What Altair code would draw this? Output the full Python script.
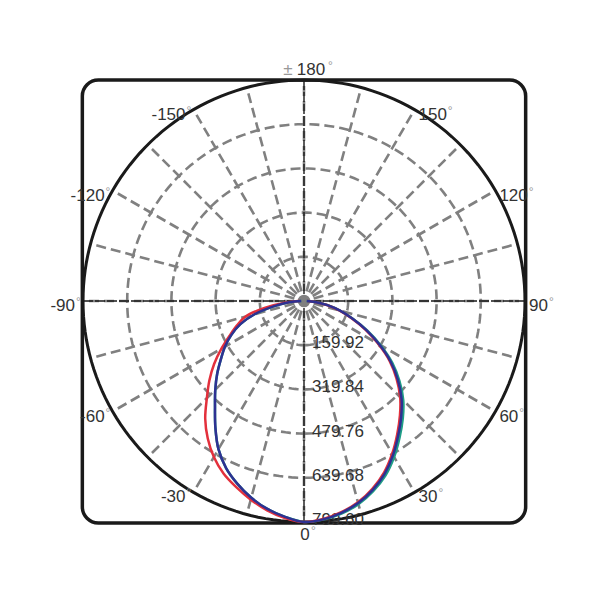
import altair as alt
import pandas as pd

# ---------------- data ----------------
ANGLES = list(range(-90, 91, 5))
RED = [15, 70, 145, 220, 258, 297, 345, 397, 447, 497, 556, 607, 652, 689, 717, 744, 769, 788,
       799.6,
       792, 776, 754, 723, 685, 638, 588, 540, 492, 437, 378, 310, 245, 183, 132, 84, 40, 12]
GREEN = [10, 55, 112, 185, 245, 290, 330, 367, 410, 454, 501, 559, 619, 667, 704, 737, 764, 784,
         799.6,
         794, 781, 761, 732, 697, 652, 603, 556, 508, 451, 390, 320, 252, 188, 136, 87, 40, 10]
BLUE = [10, 55, 112, 185, 245, 290, 330, 367, 410, 454, 501, 559, 619, 667, 704, 737, 764, 784,
        799.6,
        793, 778, 757, 727, 690, 644, 594, 547, 499, 443, 383, 315, 249, 186, 135, 86, 40, 10]

RMAX = 799.60
RING_VALUES = [159.92, 319.84, 479.76, 639.68]
RING_LABELS = ["159.92", "319.84", "479.76", "639.68", "799.60"]
RING_LABEL_VALUES = [159.92, 319.84, 479.76, 639.68, 799.60]
SPOKE_ANGLES = list(range(-165, 181, 15))
LEFT_ANGLES = [-150, -120, -90, -60, -30]
LEFT_TEXT = ["-150", "-120", "-90", "-60", "-30"]
RIGHT_ANGLES = [30, 60, 90, 120, 150]
RIGHT_TEXT = ["30", "60", "90", "120", "150"]

# ---------------- geometry / scales ----------------
W = H = 584
U = RMAX / 221.0           # data units per pixel
CX, CY = 296, 293          # centre in plot pixels
xs = alt.Scale(domain=[-CX * U, (W - CX) * U], nice=False, zero=False)
ys = alt.Scale(domain=[-(H - CY) * U, CY * U], nice=False, zero=False)
FONT = "Liberation Sans"
TXT = "#333333"
GRID = "#808080"


def X(f):
    return alt.X(f, type="quantitative", scale=xs, axis=None)


def Y(f):
    return alt.Y(f, type="quantitative", scale=ys, axis=None)


POLX = "datum.r*sin(datum.a*PI/180)"
POLY = "-datum.r*cos(datum.a*PI/180)"

# frame
frame_df = pd.DataFrame({"r": [RMAX]})
frame = alt.Chart(frame_df).transform_calculate(
    x1="-datum.r*1.003", x2="datum.r*1.003", y1="-datum.r*1.004", y2="datum.r*1.0"
).mark_rect(fill="transparent", stroke="#1a1a1a", strokeWidth=3.5, cornerRadius=16).encode(
    x=X("x1:Q"), x2="x2:Q", y=Y("y1:Q"), y2="y2:Q")

# dashed rings
circ_t = list(range(0, 361, 2))
ring_df = pd.DataFrame([(r, t) for r in RING_VALUES for t in circ_t], columns=["r", "a"])
rings = alt.Chart(ring_df).transform_calculate(x=POLX, y=POLY).mark_line(
    color=GRID, strokeWidth=2.6, strokeDash=[10, 5]).encode(
    x=X("x:Q"), y=Y("y:Q"), detail="r:N", order="a:Q")

# spokes
spk_df = pd.DataFrame({"a": SPOKE_ANGLES})
spokes = alt.Chart(spk_df).transform_calculate(
    x0=f"{10*U}*sin(datum.a*PI/180)", y0=f"-{10*U}*cos(datum.a*PI/180)",
    x1=f"{RMAX}*sin(datum.a*PI/180)", y1=f"-{RMAX}*cos(datum.a*PI/180)"
).mark_rule(color=GRID, strokeWidth=2.6, strokeDash=[10, 5]).encode(
    x=X("x0:Q"), y=Y("y0:Q"), x2="x1:Q", y2="y1:Q")

# cross lines
cross_df = pd.DataFrame({"a": [0, 90]})
cross = alt.Chart(cross_df).transform_calculate(
    x0=f"{RMAX}*sin(datum.a*PI/180)", y0=f"{RMAX}*cos(datum.a*PI/180)",
    x1=f"-{RMAX}*sin(datum.a*PI/180)", y1=f"-{RMAX}*cos(datum.a*PI/180)"
).mark_rule(color="#1a1a1a", strokeWidth=1.4, strokeDash=[10, 2]).encode(
    x=X("x0:Q"), y=Y("y0:Q"), x2="x1:Q", y2="y1:Q")

# outer circle
outer_df = pd.DataFrame({"r": RMAX, "a": circ_t})
outer = alt.Chart(outer_df).transform_calculate(x=POLX, y=POLY).mark_line(
    color="#1a1a1a", strokeWidth=3).encode(x=X("x:Q"), y=Y("y:Q"), order="a:Q")

# centre dot
dot_df = pd.DataFrame({"r": [0.0], "a": [0.0]})
dot = alt.Chart(dot_df).transform_calculate(x=POLX, y=POLY).mark_point(
    filled=True, color=GRID, size=160, opacity=1).encode(x=X("x:Q"), y=Y("y:Q"))

# radial value labels
rl_df = pd.DataFrame({"r": RING_LABEL_VALUES, "label": RING_LABELS, "a": 0})
rlabels = alt.Chart(rl_df).transform_calculate(x=POLX, y=POLY).mark_text(
    align="left", baseline="middle", dx=8, dy=-2, fontSize=17, font=FONT, color=TXT).encode(
    x=X("x:Q"), y=Y("y:Q"), text="label:N")

# angle labels
left_df = pd.DataFrame({"a": LEFT_ANGLES, "label": LEFT_TEXT, "r": RMAX})
right_df = pd.DataFrame({"a": RIGHT_ANGLES, "label": RIGHT_TEXT, "r": RMAX})
left_lab = alt.Chart(left_df).transform_calculate(x=POLX, y=POLY).mark_text(
    align="right", baseline="middle", dx=-8, dy=5, fontSize=17, font=FONT, color=TXT).encode(
    x=X("x:Q"), y=Y("y:Q"), text="label:N")
left_deg = alt.Chart(left_df).transform_calculate(x=POLX, y=POLY).mark_text(
    text="°", align="left", baseline="middle", dx=-7, dy=1, fontSize=12, font=FONT,
    color="#999999").encode(x=X("x:Q"), y=Y("y:Q"))
right_lab = alt.Chart(right_df).transform_calculate(x=POLX, y=POLY).mark_text(
    align="left", baseline="middle", dx=4, dy=5, fontSize=17, font=FONT, color=TXT).encode(
    x=X("x:Q"), y=Y("y:Q"), text="label:N")
right_deg = alt.Chart(right_df).transform_calculate(
    x=f"{POLX} + (5 + 9.45*length(datum.label))*{U}", y=POLY).mark_text(
    text="°", align="left", baseline="middle", dy=1, fontSize=12, font=FONT,
    color="#999999").encode(x=X("x:Q"), y=Y("y:Q"))

bot_df = pd.DataFrame({"a": [0], "label": ["0"], "r": RMAX})
bot_lab = alt.Chart(bot_df).transform_calculate(x=POLX, y=POLY).mark_text(
    align="center", baseline="middle", dx=1, dy=13, fontSize=17, font=FONT, color=TXT).encode(
    x=X("x:Q"), y=Y("y:Q"), text="label:N")
bot_deg = alt.Chart(bot_df).transform_calculate(x=POLX, y=POLY).mark_text(
    text="°", align="left", baseline="middle", dx=7, dy=9, fontSize=12, font=FONT,
    color="#999999").encode(x=X("x:Q"), y=Y("y:Q"))

top_df = pd.DataFrame({"a": [180], "label": ["180"], "r": RMAX})
top_lab = alt.Chart(top_df).transform_calculate(x=POLX, y=POLY).mark_text(
    align="center", baseline="middle", dx=7, dy=-10, fontSize=17, font=FONT, color=TXT).encode(
    x=X("x:Q"), y=Y("y:Q"), text="label:N")
top_pm = alt.Chart(top_df).transform_calculate(x=POLX, y=POLY).mark_text(
    text="±", align="center", baseline="middle", dx=-16, dy=-10, fontSize=17, font=FONT,
    color="#999999").encode(x=X("x:Q"), y=Y("y:Q"))
top_deg = alt.Chart(top_df).transform_calculate(x=POLX, y=POLY).mark_text(
    text="°", align="left", baseline="middle", dx=24, dy=-14, fontSize=12, font=FONT,
    color="#999999").encode(x=X("x:Q"), y=Y("y:Q"))


# curves
def curve(vals, color):
    df = pd.DataFrame({"a": ANGLES, "r": vals})
    return alt.Chart(df).transform_calculate(x=POLX, y=POLY).mark_line(
        color=color, strokeWidth=2.5, interpolate="catmull-rom").encode(
        x=X("x:Q"), y=Y("y:Q"), order="a:Q")


c_green = curve(GREEN, "#1f9e86")
c_red = curve(RED, "#e3303c")
c_blue = curve(BLUE, "#2e3192")

chart = alt.layer(
    frame, rings, spokes, cross, outer, dot, rlabels,
    left_lab, left_deg, right_lab, right_deg, bot_lab, bot_deg, top_lab, top_pm, top_deg,
    c_green, c_red, c_blue
).properties(
    width=W, height=H, autosize=alt.AutoSizeParams(type="none"), padding=0,
    background="white"
).configure_view(stroke=None)

chart.save("out.html", embed_options={"renderer": "svg", "actions": False})
